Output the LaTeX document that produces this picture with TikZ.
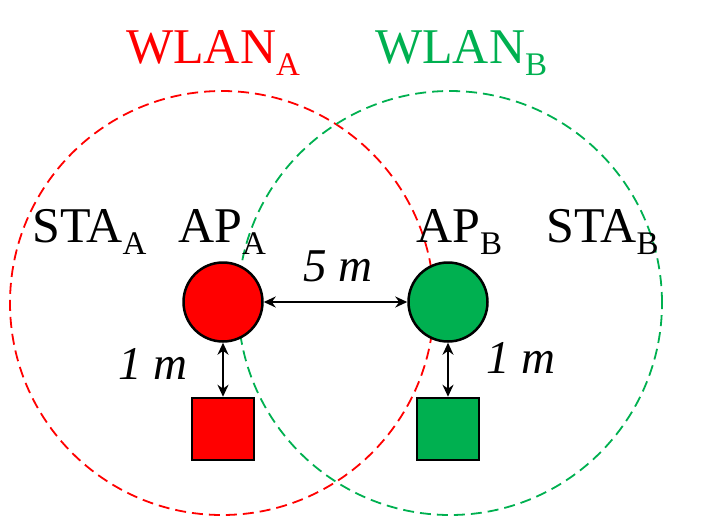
\documentclass[tikz,border=0pt]{standalone}
\usepackage{fontspec}
\setmainfont{Liberation Serif}
\usetikzlibrary{arrows.meta}
\definecolor{wlanRed}{RGB}{255,0,0}
\definecolor{wlanGreen}{RGB}{0,176,80}
% chỉ số dưới kiểu PowerPoint
\newcommand{\lowidx}[1]{\raisebox{-12pt}{\fontsize{33}{33}\selectfont #1}}
\begin{document}
\begin{tikzpicture}[x=1pt, y=-1pt, >={Stealth[length=12pt, width=11pt]}]
	
	% Định dạng các thành phần
	\tikzset{
		rangeLine/.style={line width=1.8pt, dash pattern=on 11pt off 6pt},
		apNode/.style={circle, draw=black, line width=2.5pt, minimum size=79pt, inner sep=0pt},
		staNode/.style={rectangle, draw=black, line width=2.5pt, minimum size=62pt, inner sep=0pt},
		bigText/.style={font=\fontsize{50}{60}\selectfont, inner sep=0pt, anchor=base west},
		distText/.style={font=\fontsize{47}{56}\selectfont\itshape, inner sep=0pt, anchor=base west},
		distArrow/.style={<->, line width=2.6pt}
	}
	
	% Khung ảnh
	\useasboundingbox (0,0) rectangle (711,517);
	
	% Vùng phủ sóng của hai WLAN
	\draw[rangeLine, wlanRed] (222,303) circle[radius=212pt];
	\draw[rangeLine, wlanGreen] (450,303) circle[radius=212pt];
	
	% Các AP và STA
	\node[apNode, fill=wlanRed] (apA) at (223,302) {};
	\node[apNode, fill=wlanGreen] (apB) at (448,302) {};
	\node[staNode, fill=wlanRed] (staA) at (223,429) {};
	\node[staNode, fill=wlanGreen] (staB) at (448,429) {};
	
	% Mũi tên khoảng cách
	\draw[distArrow] (apA) -- (apB);
	\draw[distArrow] (apA) -- (staA);
	\draw[distArrow] (apB) -- (staB);
	
	% Nhãn
	\node[bigText, text=wlanRed] (lblWlanA) at (126,63) {WLAN\lowidx{A}};
	\node[bigText, text=wlanGreen] (lblWlanB) at (375,63) {WLAN\lowidx{B}};
	\node[bigText] (lblStaA) at (32,242) {STA\lowidx{A}};
	\node[bigText] (lblApA) at (178,242) {AP\lowidx{A}};
	\node[bigText] (lblApB) at (416,242) {AP\lowidx{B}};
	\node[bigText] (lblStaB) at (546,242) {STA\lowidx{B}};
	\node[distText] (lblAB) at (303,281) {5 m};
	\node[distText] (lblA) at (118,379) {1 m};
	\node[distText] (lblB) at (486,373) {1 m};
	
\end{tikzpicture}
\end{document}
